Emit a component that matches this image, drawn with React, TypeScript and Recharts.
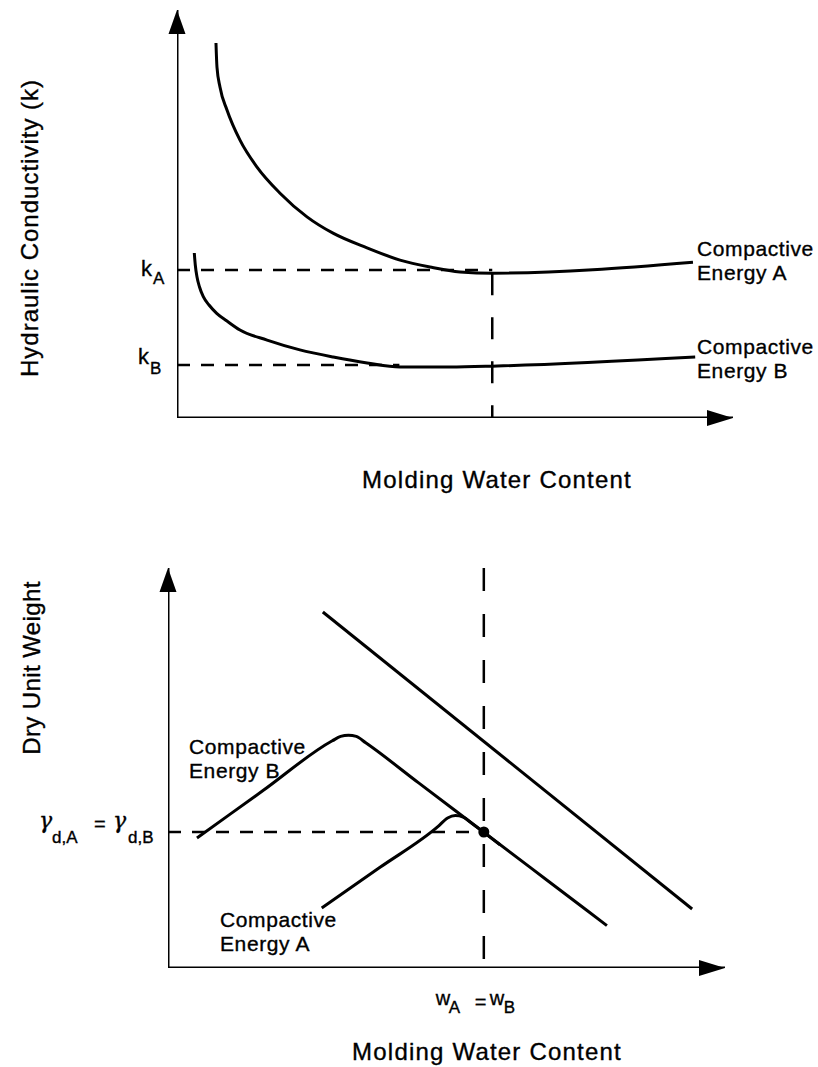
import React from 'react';
import { LineChart, Line, XAxis, YAxis, ReferenceDot } from 'recharts';

const FONT = 'Liberation Sans, Arial, Helvetica, sans-serif';

// ---------- shared axis extents (domain units) ----------
const axisX = [{ x: 0, y: 0 }, { x: 100, y: 0 }];
const axisY = [{ x: 0, y: 0 }, { x: 0, y: 100 }];

// ---------- Top panel: hydraulic conductivity vs molding water content ----------
const K_A = 36.3;
const K_B = 13.0;
const W_TOP = 56.7;

const energyAk = [
  { x: 7.01, y: 91.9 }, { x: 7.19, y: 86.0 }, { x: 7.73, y: 81.1 }, { x: 8.99, y: 75.5 },
  { x: 11.33, y: 68.1 }, { x: 14.39, y: 61.5 }, { x: 18.53, y: 55.1 }, { x: 23.38, y: 49.3 },
  { x: 28.06, y: 45.3 }, { x: 34.17, y: 41.7 }, { x: 40.11, y: 38.7 }, { x: 45.5, y: 37.0 },
  { x: 50.9, y: 35.8 }, { x: 56.8, y: 35.5 }, { x: 92.8, y: 38.2 },
];

const energyBk = [
  { x: 3.11, y: 40.44 }, { x: 3.29, y: 37.5 }, { x: 3.6, y: 34.56 }, { x: 4.05, y: 32.1 },
  { x: 4.73, y: 29.73 }, { x: 5.76, y: 27.7 }, { x: 7.14, y: 25.66 }, { x: 8.99, y: 23.77 },
  { x: 11.33, y: 21.57 }, { x: 16.2, y: 19.1 }, { x: 22.1, y: 16.7 }, { x: 28.1, y: 14.95 },
  { x: 34.2, y: 13.5 }, { x: 40.1, y: 12.5 }, { x: 49.1, y: 12.5 }, { x: 57.6, y: 12.75 },
  { x: 93.2, y: 14.95 },
];

const kALine = [{ x: 0, y: K_A }, { x: W_TOP, y: K_A }];
const kBLine = [{ x: 0, y: K_B }, { x: 40, y: K_B }];
const wTopLine = [{ x: W_TOP, y: 35.5 }, { x: W_TOP, y: 0 }];

// ---------- Bottom panel: dry unit weight vs molding water content ----------
const W_OPT = 56.7;
const G_MAX = 34.0;

const zeroAirVoids = [{ x: 27.8, y: 89.0 }, { x: 94.1, y: 14.75 }];

const energyBg = [
  { x: 5.2, y: 32.5 }, { x: 17.0, y: 44.3 }, { x: 29.5, y: 56.8 }, { x: 31.0, y: 57.9 },
  { x: 32.4, y: 58.2 }, { x: 33.8, y: 57.9 }, { x: 35.5, y: 56.3 }, { x: 45.0, y: 46.27 },
  { x: 57.0, y: 33.61 }, { x: 68.0, y: 22.0 }, { x: 78.8, y: 10.6 },
];

const energyAg = [
  { x: 27.6, y: 15.0 }, { x: 38.0, y: 25.1 }, { x: 48.5, y: 35.4 }, { x: 50.2, y: 37.5 },
  { x: 51.6, y: 38.1 }, { x: 53.0, y: 37.7 }, { x: 54.6, y: 36.1 }, { x: 57.0, y: 33.6 },
  { x: 59.6, y: 30.8 },
];

const gLine = [{ x: 0, y: G_MAX }, { x: W_OPT, y: G_MAX }];
const wLine = [{ x: W_OPT, y: 100 }, { x: W_OPT, y: 0 }];

const TXT = { fontFamily: FONT, fill: '#000', stroke: '#000', strokeWidth: 0.35 };

const xArrow = (p: any) => (
  <polygon points={`${p.cx},${p.cy} ${p.cx - 26},${p.cy - 8} ${p.cx - 26},${p.cy + 8}`} fill="#000" />
);
const yArrow = (p: any) => (
  <polygon points={`${p.cx},${p.cy} ${p.cx - 8.5},${p.cy + 24} ${p.cx + 8.5},${p.cy + 24}`} fill="#000" />
);

const kALabel = (p: any) => (
  <g {...TXT}>
    <text x={p.cx - 36} y={p.cy + 6} fontSize={22}>k</text>
    <text x={p.cx - 24} y={p.cy + 14} fontSize={17}>A</text>
  </g>
);
const kBLabel = (p: any) => (
  <g {...TXT}>
    <text x={p.cx - 39} y={p.cy - 1} fontSize={22}>k</text>
    <text x={p.cx - 27} y={p.cy + 9} fontSize={17}>B</text>
  </g>
);
const gLabel = (p: any) => (
  <g {...TXT}>
    <text x={p.cx - 129} y={p.cy - 4} fontSize={22} fontFamily="DejaVu Serif" fontStyle="italic">γ</text>
    <text x={p.cx - 116} y={p.cy + 11} fontSize={17}>d,A</text>
    <text x={p.cx - 74} y={p.cy - 1} fontSize={20}>=</text>
    <text x={p.cx - 55} y={p.cy - 4} fontSize={22} fontFamily="DejaVu Serif" fontStyle="italic">γ</text>
    <text x={p.cx - 40} y={p.cy + 11} fontSize={17}>d,B</text>
  </g>
);
const wLabel = (p: any) => (
  <g {...TXT}>
    <text x={p.cx - 48} y={p.cy + 37} fontSize={20}>w</text>
    <text x={p.cx - 35} y={p.cy + 45} fontSize={17}>A</text>
    <text x={p.cx - 9} y={p.cy + 41} fontSize={20}>=</text>
    <text x={p.cx + 6} y={p.cy + 37} fontSize={20}>w</text>
    <text x={p.cx + 20} y={p.cy + 45} fontSize={17}>B</text>
  </g>
);
const dotShape = (p: any) => <circle cx={p.cx} cy={p.cy} r={5.5} fill="#000" />;

const solid = { stroke: '#000', strokeWidth: 3, dot: false, isAnimationActive: false } as const;
const dashed = (d: string) => ({ stroke: '#000', strokeWidth: 2.5, strokeDasharray: d, dot: false, isAnimationActive: false });

const label = (x: number, y: number, s: string, size = 21, spacing = 0.6) => (
  <text x={x} y={y} fontSize={size} letterSpacing={spacing} {...TXT}>{s}</text>
);

export default function App() {
  return (
    <div style={{ position: 'absolute', left: 0, top: 0, width: 818, height: 1067, background: '#fff', overflow: 'hidden' }}>
      <LineChart width={818} height={530} margin={{ top: 10, right: 85, bottom: 112, left: 177 }} style={{ overflow: 'visible' }}>
        <XAxis type="number" dataKey="x" domain={[0, 100]} allowDataOverflow hide />
        <YAxis type="number" domain={[0, 100]} allowDataOverflow hide />
        <Line data={axisX} dataKey="y" type="linear" {...solid} />
        <Line data={axisY} dataKey="y" type="linear" {...solid} />
        <Line data={kALine} dataKey="y" type="linear" {...dashed('13 11')} />
        <Line data={kBLine} dataKey="y" type="linear" {...dashed('13 11')} />
        <Line data={wTopLine} dataKey="y" type="linear" {...dashed('22 22')} />
        <Line data={energyAk} dataKey="y" type="monotone" {...solid} />
        <Line data={energyBk} dataKey="y" type="monotone" {...solid} />
        <ReferenceDot x={100} y={0} ifOverflow="visible" shape={xArrow} />
        <ReferenceDot x={0} y={100} ifOverflow="visible" shape={yArrow} />
        <ReferenceDot x={0} y={K_A} ifOverflow="visible" shape={kALabel} />
        <ReferenceDot x={0} y={K_B} ifOverflow="visible" shape={kBLabel} />
        <text transform="translate(38,228) rotate(-90)" textAnchor="middle" fontSize={24} letterSpacing={1} {...TXT}>Hydraulic Conductivity (k)</text>
        <text x={497} y={488} textAnchor="middle" fontSize={24} letterSpacing={1.2} {...TXT}>Molding Water Content</text>
        {label(697, 256, 'Compactive')}
        {label(697, 280, 'Energy A')}
        {label(697, 354, 'Compactive')}
        {label(697, 378, 'Energy B')}
      </LineChart>
      <LineChart width={818} height={537} margin={{ top: 38, right: 93, bottom: 99, left: 168 }} style={{ overflow: 'visible' }}>
        <XAxis type="number" dataKey="x" domain={[0, 100]} allowDataOverflow hide />
        <YAxis type="number" domain={[0, 100]} allowDataOverflow hide />
        <Line data={axisX} dataKey="y" type="linear" {...solid} />
        <Line data={axisY} dataKey="y" type="linear" {...solid} />
        <Line data={gLine} dataKey="y" type="linear" {...dashed('13 11')} />
        <Line data={wLine} dataKey="y" type="linear" {...dashed('23 23')} />
        <Line data={zeroAirVoids} dataKey="y" type="linear" {...solid} />
        <Line data={energyBg} dataKey="y" type="monotone" {...solid} />
        <Line data={energyAg} dataKey="y" type="monotone" {...solid} />
        <ReferenceDot x={W_OPT} y={G_MAX} ifOverflow="visible" shape={dotShape} />
        <ReferenceDot x={100} y={0} ifOverflow="visible" shape={xArrow} />
        <ReferenceDot x={0} y={100} ifOverflow="visible" shape={yArrow} />
        <ReferenceDot x={0} y={G_MAX} ifOverflow="visible" shape={gLabel} />
        <ReferenceDot x={W_OPT} y={0} ifOverflow="visible" shape={wLabel} />
        <text transform="translate(40,138) rotate(-90)" textAnchor="middle" fontSize={24} letterSpacing={0.4} {...TXT}>Dry Unit Weight</text>
        <text x={487} y={530} textAnchor="middle" fontSize={24} letterSpacing={1.2} {...TXT}>Molding Water Content</text>
        {label(189, 224, 'Compactive')}
        {label(189, 248, 'Energy B')}
        {label(220, 397, 'Compactive')}
        {label(220, 421, 'Energy A')}
      </LineChart>
    </div>
  );
}
